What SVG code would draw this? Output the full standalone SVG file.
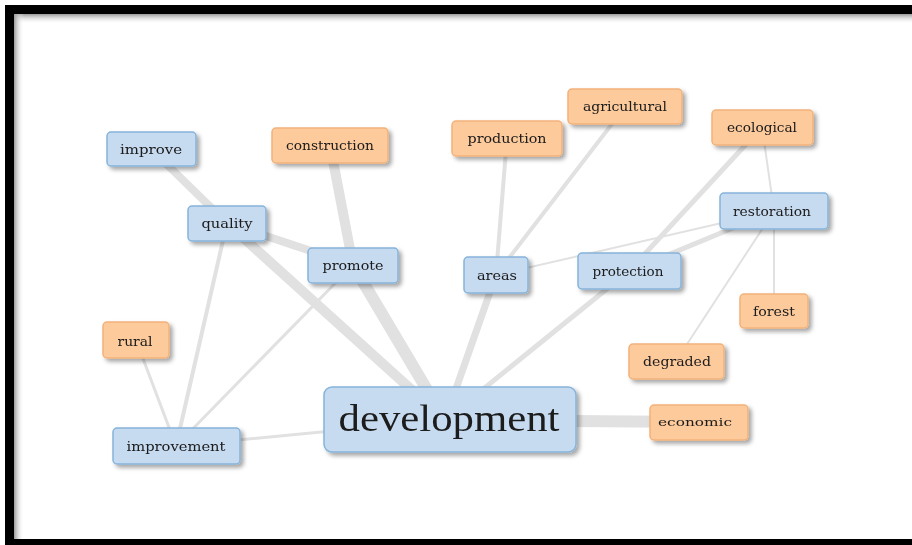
<svg xmlns="http://www.w3.org/2000/svg" width="912" height="545" viewBox="0 0 912 545">
<defs>
<style>
.e{stroke:#e1e1e1;stroke-linecap:round;fill:none}
.b{fill:#c6daf0;stroke:#86b4da;stroke-width:1.5}
.o{fill:#fdca9c;stroke:#f2b37a;stroke-width:1.5}
.t{font-family:"DejaVu Serif","Liberation Serif",serif;font-size:12.5px;fill:#1a1a1a;text-anchor:middle;dominant-baseline:central}
.big{font-family:"Liberation Serif","DejaVu Serif",serif;font-size:38px}
</style>
<filter id="sh" x="-20%" y="-20%" width="150%" height="160%">
<feDropShadow dx="3" dy="3" stdDeviation="2.2" flood-color="#000" flood-opacity="0.35"/>
</filter>
<linearGradient id="gt" x1="0" y1="0" x2="0" y2="1"><stop offset="0" stop-color="#999"/><stop offset="1" stop-color="#fff" stop-opacity="0"/></linearGradient>
<linearGradient id="gl" x1="0" y1="0" x2="1" y2="0"><stop offset="0" stop-color="#999"/><stop offset="1" stop-color="#fff" stop-opacity="0"/></linearGradient>
</defs>
<rect x="0" y="0" width="912" height="545" fill="#fff"/>
<g id="frame">
<rect x="5" y="5" width="907" height="9" fill="#000"/>
<rect x="5" y="5" width="9" height="540" fill="#000"/>
<rect x="5" y="539" width="907" height="6" fill="#000"/>
<rect x="14" y="14" width="898" height="10" fill="url(#gt)"/>
<rect x="14" y="14" width="10" height="525" fill="url(#gl)"/>
</g>
<g id="connectors">
<line class="e" x1="151" y1="149" x2="227" y2="223" stroke-width="8"/>
<line class="e" x1="227" y1="223" x2="353" y2="265" stroke-width="8"/>
<line class="e" x1="227" y1="223" x2="445" y2="420" stroke-width="10"/>
<line class="e" x1="353" y1="265" x2="445" y2="420" stroke-width="12"/>
<line class="e" x1="330" y1="145" x2="353" y2="265" stroke-width="10"/>
<line class="e" x1="445" y1="420" x2="699" y2="422" stroke-width="12"/>
<line class="e" x1="445" y1="420" x2="496" y2="275" stroke-width="7"/>
<line class="e" x1="445" y1="420" x2="629" y2="271" stroke-width="5"/>
<line class="e" x1="445" y1="420" x2="176" y2="446" stroke-width="3"/>
<line class="e" x1="496" y1="275" x2="507" y2="138" stroke-width="4"/>
<line class="e" x1="496" y1="275" x2="625" y2="107" stroke-width="4"/>
<line class="e" x1="496" y1="275" x2="774" y2="211" stroke-width="2"/>
<line class="e" x1="629" y1="271" x2="762" y2="127" stroke-width="5"/>
<line class="e" x1="629" y1="271" x2="774" y2="211" stroke-width="5"/>
<line class="e" x1="762" y1="127" x2="774" y2="211" stroke-width="2"/>
<line class="e" x1="774" y1="211" x2="774" y2="311" stroke-width="2"/>
<line class="e" x1="774" y1="211" x2="676" y2="361" stroke-width="2"/>
<line class="e" x1="176" y1="446" x2="227" y2="223" stroke-width="4"/>
<line class="e" x1="176" y1="446" x2="353" y2="265" stroke-width="3"/>
<line class="e" x1="176" y1="446" x2="136" y2="340" stroke-width="3"/>
</g>
<g id="improve" filter="url(#sh)"><rect class="b" x="107" y="132" width="89" height="34" rx="4"/><text class="t" x="151" y="149" textLength="62" lengthAdjust="spacingAndGlyphs">improve</text></g>
<g id="construction" filter="url(#sh)"><rect class="o" x="272" y="128" width="116" height="35" rx="4"/><text class="t" x="330" y="145" textLength="88" lengthAdjust="spacingAndGlyphs">construction</text></g>
<g id="quality" filter="url(#sh)"><rect class="b" x="188" y="206" width="78" height="35" rx="4"/><text class="t" x="227" y="223" textLength="51" lengthAdjust="spacingAndGlyphs">quality</text></g>
<g id="promote" filter="url(#sh)"><rect class="b" x="308" y="248" width="90" height="35" rx="4"/><text class="t" x="353" y="265" textLength="61" lengthAdjust="spacingAndGlyphs">promote</text></g>
<g id="production" filter="url(#sh)"><rect class="o" x="452" y="121" width="110" height="35" rx="4"/><text class="t" x="507" y="138" textLength="79" lengthAdjust="spacingAndGlyphs">production</text></g>
<g id="agricultural" filter="url(#sh)"><rect class="o" x="568" y="89" width="114" height="35" rx="4"/><text class="t" x="625" y="106" textLength="84" lengthAdjust="spacingAndGlyphs">agricultural</text></g>
<g id="ecological" filter="url(#sh)"><rect class="o" x="712" y="110" width="101" height="35" rx="4"/><text class="t" x="762" y="127" textLength="70" lengthAdjust="spacingAndGlyphs">ecological</text></g>
<g id="restoration" filter="url(#sh)"><rect class="b" x="720" y="193" width="108" height="36" rx="4"/><text class="t" x="772" y="211" textLength="78" lengthAdjust="spacingAndGlyphs">restoration</text></g>
<g id="areas" filter="url(#sh)"><rect class="b" x="464" y="257" width="64" height="36" rx="4"/><text class="t" x="497" y="275" textLength="40" lengthAdjust="spacingAndGlyphs">areas</text></g>
<g id="protection" filter="url(#sh)"><rect class="b" x="578" y="253" width="103" height="36" rx="4"/><text class="t" x="628" y="271" textLength="71" lengthAdjust="spacingAndGlyphs">protection</text></g>
<g id="forest" filter="url(#sh)"><rect class="o" x="740" y="294" width="68" height="34" rx="4"/><text class="t" x="774" y="311" textLength="42" lengthAdjust="spacingAndGlyphs">forest</text></g>
<g id="degraded" filter="url(#sh)"><rect class="o" x="629" y="344" width="95" height="35" rx="4"/><text class="t" x="677" y="361" textLength="68" lengthAdjust="spacingAndGlyphs">degraded</text></g>
<g id="rural" filter="url(#sh)"><rect class="o" x="103" y="322" width="66" height="36" rx="4"/><text class="t" x="135" y="341" textLength="35" lengthAdjust="spacingAndGlyphs">rural</text></g>
<g id="improvement" filter="url(#sh)"><rect class="b" x="113" y="428" width="127" height="36" rx="4"/><text class="t" x="176" y="446" textLength="99" lengthAdjust="spacingAndGlyphs">improvement</text></g>
<g id="development" filter="url(#sh)"><rect class="b" x="324" y="387" width="252" height="65" rx="8"/><text class="t big" x="449" y="418" textLength="221" lengthAdjust="spacingAndGlyphs">development</text></g>
<g id="economic" filter="url(#sh)"><rect class="o" x="650" y="405" width="98" height="35" rx="4"/><text class="t" x="695" y="422" textLength="74" lengthAdjust="spacingAndGlyphs" style="font-size:11px">economic</text></g>
</svg>
